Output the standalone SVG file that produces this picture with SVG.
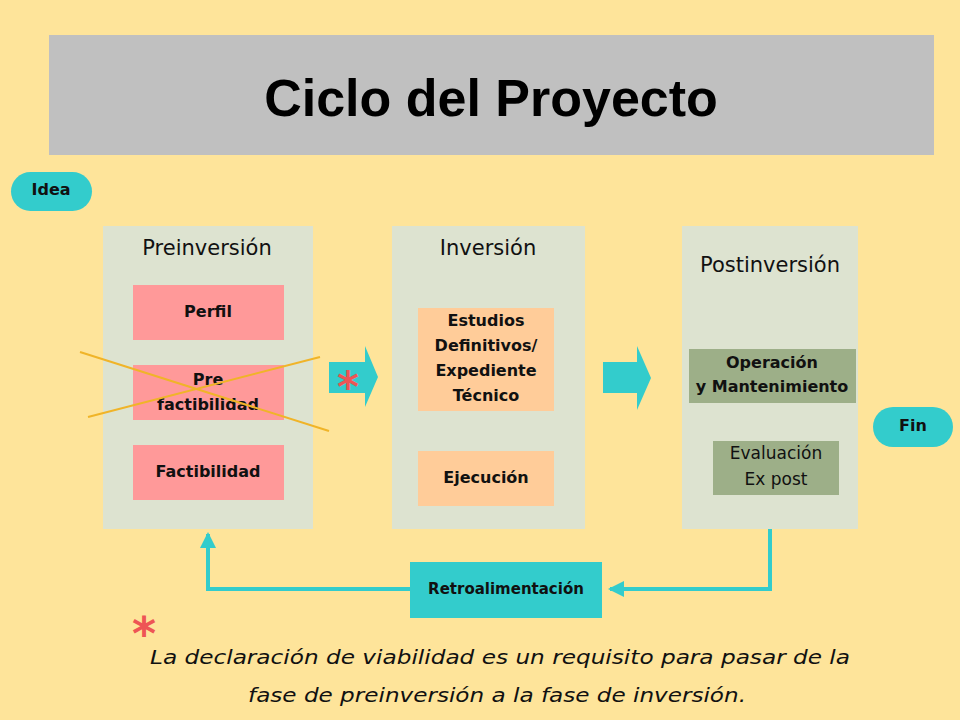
<svg xmlns="http://www.w3.org/2000/svg" width="960" height="720" viewBox="0 0 960 720">
<style>
.t{font-family:"DejaVu Sans","Open Sans",sans-serif;font-weight:bold;fill:#111;text-anchor:middle}
.n{font-weight:normal}
.pill{fill:#33CCCC}
.panel{fill:#DDE3D0}
.pink{fill:#FF9999}
.peach{fill:#FFCC99}
.green{fill:#9DAF88}
.conn{stroke:#33CCCC;stroke-width:4;fill:none}
</style>
<defs>
<marker id="ah" markerWidth="4" markerHeight="4" refX="3.5" refY="2" orient="auto" markerUnits="strokeWidth"><path d="M0,0 L4,2 L0,4 Z" fill="#33CCCC"/></marker>
</defs>
<rect width="960" height="720" fill="#FEE49A"/>
<g id="title"><rect x="49" y="35" width="885" height="120" fill="#C0C0C0"/>
<text x="491" y="116" font-family="Liberation Sans,Arial,sans-serif" font-weight="bold" font-size="52" text-anchor="middle" fill="#000">Ciclo del Proyecto</text></g>
<g id="idea"><rect class="pill" x="11" y="172" width="81" height="39" rx="19.5"/><text class="t" x="51" y="195" font-size="16">Idea</text></g>
<g id="preinversion"><rect class="panel" x="103" y="226" width="210" height="303"/><text class="t n" x="207" y="255" font-size="21">Preinversión</text>
<rect class="pink" x="133" y="285" width="151" height="55"/><text class="t" x="208" y="317" font-size="16">Perfil</text>
<rect class="pink" x="133" y="365" width="151" height="55"/><text class="t" x="208" y="385" font-size="16">Pre</text><text class="t" x="208" y="410" font-size="16">factibilidad</text>
<rect class="pink" x="133" y="445" width="151" height="55"/><text class="t" x="208" y="477" font-size="16">Factibilidad</text>
<line x1="80" y1="352" x2="329" y2="431" stroke="#F0B428" stroke-width="2"/>
<line x1="88" y1="417" x2="320" y2="357" stroke="#F0B428" stroke-width="2"/></g>
<g id="inversion"><rect class="panel" x="392" y="226" width="193" height="303"/><text class="t n" x="488" y="255" font-size="21">Inversión</text>
<rect class="peach" x="418" y="308" width="136" height="103"/>
<text class="t" x="486" y="326" font-size="16">Estudios</text><text class="t" x="486" y="351" font-size="16">Definitivos/</text><text class="t" x="486" y="376" font-size="16">Expediente</text><text class="t" x="486" y="401" font-size="16">Técnico</text>
<rect class="peach" x="418" y="451" width="136" height="55"/><text class="t" x="486" y="483" font-size="16">Ejecución</text></g>
<g id="postinversion"><rect class="panel" x="682" y="226" width="176" height="303"/><text class="t n" x="770" y="272" font-size="21">Postinversión</text>
<rect class="green" x="689" y="349" width="167" height="54"/><text class="t" x="772" y="368" font-size="16">Operación</text><text class="t" x="772" y="392" font-size="16">y Mantenimiento</text>
<rect class="green" x="713" y="441" width="126" height="54"/><text class="t n" x="776" y="459" font-size="17">Evaluación</text><text class="t n" x="776" y="485" font-size="17">Ex post</text></g>
<g id="fin"><rect class="pill" x="873" y="407" width="80" height="40" rx="20"/><text class="t" x="913" y="431" font-size="16">Fin</text></g>
<g id="retro"><rect class="pill" x="410" y="562" width="192" height="56"/><text class="t" x="506" y="594" font-size="15">Retroalimentación</text></g>
<g id="connectors">
<path d="M329,362 H365 V346 L378,377 L365,407 V393 H329 Z" fill="#33CCCC"/>
<text x="348" y="402" font-family="DejaVu Sans,sans-serif" font-weight="bold" font-size="42" fill="#EE5555" text-anchor="middle">*</text>
<path d="M603,362 H637 V346 L651,378 L637,410 V393 H603 Z" fill="#33CCCC"/>
<path class="conn" d="M770,529 V589 H610" marker-end="url(#ah)"/>
<path class="conn" d="M410,589 H208 V534" marker-end="url(#ah)"/>
</g>
<g id="note">
<text x="144" y="650" font-family="DejaVu Sans,sans-serif" font-style="italic" font-weight="bold" font-size="46" fill="#EE5555" text-anchor="middle">*</text>
<text x="500" y="664" font-family="DejaVu Sans,sans-serif" font-style="italic" font-size="20" fill="#111" text-anchor="middle" textLength="700" lengthAdjust="spacingAndGlyphs">La declaración de viabilidad es un requisito para pasar de la</text>
<text x="497" y="702" font-family="DejaVu Sans,sans-serif" font-style="italic" font-size="20" fill="#111" text-anchor="middle" textLength="498" lengthAdjust="spacingAndGlyphs">fase de preinversión a la fase de inversión.</text>
</g>
</svg>
